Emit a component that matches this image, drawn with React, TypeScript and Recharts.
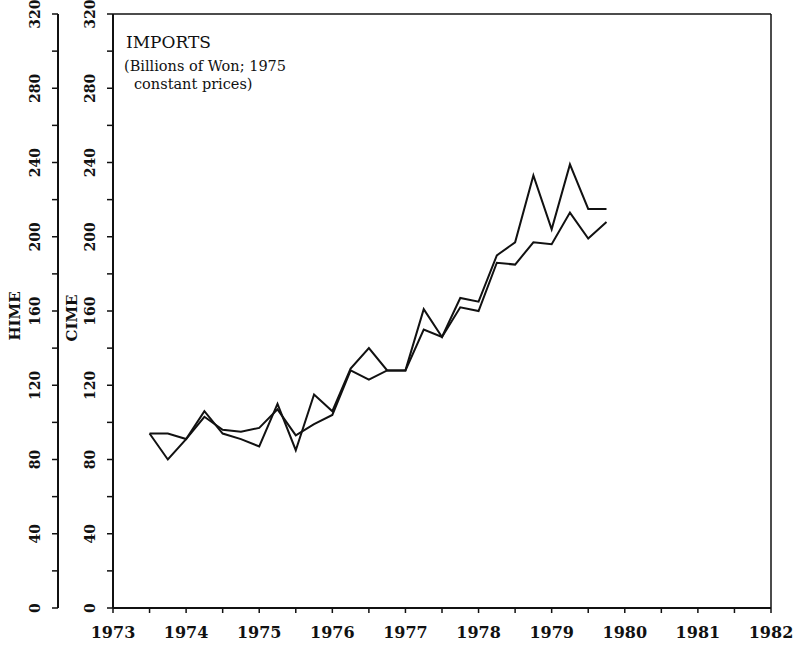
import React from "react";
import { LineChart, Line, XAxis, YAxis, ReferenceLine } from "recharts";

// quarterly observations, 1973 Q3 .. 1979 Q4
const quarters = [
  1973.5, 1973.75, 1974, 1974.25, 1974.5, 1974.75, 1975, 1975.25, 1975.5,
  1975.75, 1976, 1976.25, 1976.5, 1976.75, 1977, 1977.25, 1977.5, 1977.75,
  1978, 1978.25, 1978.5, 1978.75, 1979, 1979.25, 1979.5, 1979.75,
];

const hime = [
  94, 94, 91, 103, 96, 95, 97, 107, 93, 99, 104, 128, 123, 128, 128, 161,
  146, 167, 165, 190, 197, 233, 204, 239, 215, 215,
];

const cime = [
  94, 80, 91, 106, 94, 91, 87, 110, 85, 115, 106, 129, 140, 128, 128, 150,
  146, 162, 160, 186, 185, 197, 196, 213, 199, 208,
];

const yearTicks = [
  1973, 1973.5, 1974, 1974.5, 1975, 1975.5, 1976, 1976.5, 1977, 1977.5, 1978,
  1978.5, 1979, 1979.5, 1980, 1980.5, 1981, 1981.5, 1982,
];

const valueTicks = [
  0, 20, 40, 60, 80, 100, 120, 140, 160, 180, 200, 220, 240, 260, 280, 300, 320,
];

const data = quarters.map((t, i) => ({ t, hime: hime[i], cime: cime[i] }));

const FONT = "'DejaVu Serif', 'Liberation Serif', serif";
const INK = "#111";

const YearTick = (props: any) => {
  const { x, y, payload } = props;
  if (!Number.isInteger(payload.value)) return null;
  return (
    <text
      x={x}
      y={y + 23}
      textAnchor="middle"
      fontFamily={FONT}
      fontSize={16}
      fontWeight="bold"
      fill={INK}
    >
      {payload.value}
    </text>
  );
};

const ValueTick = (props: any) => {
  const { x, y, payload } = props;
  if (payload.value % 40 !== 0) return null;
  const cx = x - 15;
  return (
    <text
      x={cx}
      y={y}
      textAnchor="middle"
      dominantBaseline="central"
      transform={`rotate(-90 ${cx} ${y})`}
      fontFamily={FONT}
      fontSize={14}
      fontWeight="bold"
      fill={INK}
    >
      {payload.value}
    </text>
  );
};

const axisLine = { stroke: INK, strokeWidth: 2 };
const tickLine = { stroke: INK, strokeWidth: 1.5 };

export default function App() {
  return (
    <div style={{ position: "absolute", left: 0, top: 0, width: 801, height: 651, background: "#fff" }}>
      <LineChart
        width={801}
        height={651}
        data={data}
        margin={{ top: 14, right: 30, bottom: 13, left: 3 }}
      >
        <XAxis
          dataKey="t"
          type="number"
          domain={[1973, 1982]}
          ticks={yearTicks}
          interval={0}
          tickSize={5}
          height={30}
          axisLine={axisLine}
          tickLine={tickLine}
          tick={<YearTick />}
        />
        <YAxis
          yAxisId="inner"
          domain={[0, 320]}
          ticks={valueTicks}
          interval={0}
          tickSize={6}
          width={55}
          axisLine={axisLine}
          tickLine={tickLine}
          tick={<ValueTick />}
        />
        <YAxis
          yAxisId="outer"
          domain={[0, 320]}
          ticks={valueTicks}
          interval={0}
          tickSize={6}
          width={55}
          axisLine={axisLine}
          tickLine={tickLine}
          tick={<ValueTick />}
        />
        <ReferenceLine yAxisId="inner" y={320} stroke={INK} strokeWidth={1.5} />
        <ReferenceLine yAxisId="inner" x={1982} stroke={INK} strokeWidth={1.5} />
        <Line
          yAxisId="inner"
          dataKey="hime"
          type="linear"
          stroke={INK}
          strokeWidth={2}
          dot={false}
          isAnimationActive={false}
        />
        <Line
          yAxisId="outer"
          dataKey="cime"
          type="linear"
          stroke={INK}
          strokeWidth={2}
          dot={false}
          isAnimationActive={false}
        />
      </LineChart>
      <svg
        width={801}
        height={651}
        style={{ position: "absolute", left: 0, top: 0, pointerEvents: "none" }}
      >
        <text x={126} y={48} fontFamily={FONT} fontSize={17} fill={INK}>
          IMPORTS
        </text>
        <text x={124} y={71} fontFamily={FONT} fontSize={14.5} fill={INK}>
          (Billions of Won; 1975
        </text>
        <text x={134} y={89} fontFamily={FONT} fontSize={14.5} fill={INK}>
          constant prices)
        </text>
        <text
          x={15}
          y={316}
          textAnchor="middle"
          dominantBaseline="central"
          transform="rotate(-90 15 316)"
          fontFamily={FONT}
          fontSize={15}
          fontWeight="bold"
          fill={INK}
        >
          HIME
        </text>
        <text
          x={72}
          y={318}
          textAnchor="middle"
          dominantBaseline="central"
          transform="rotate(-90 72 318)"
          fontFamily={FONT}
          fontSize={15}
          fontWeight="bold"
          fill={INK}
        >
          CIME
        </text>
      </svg>
    </div>
  );
}
